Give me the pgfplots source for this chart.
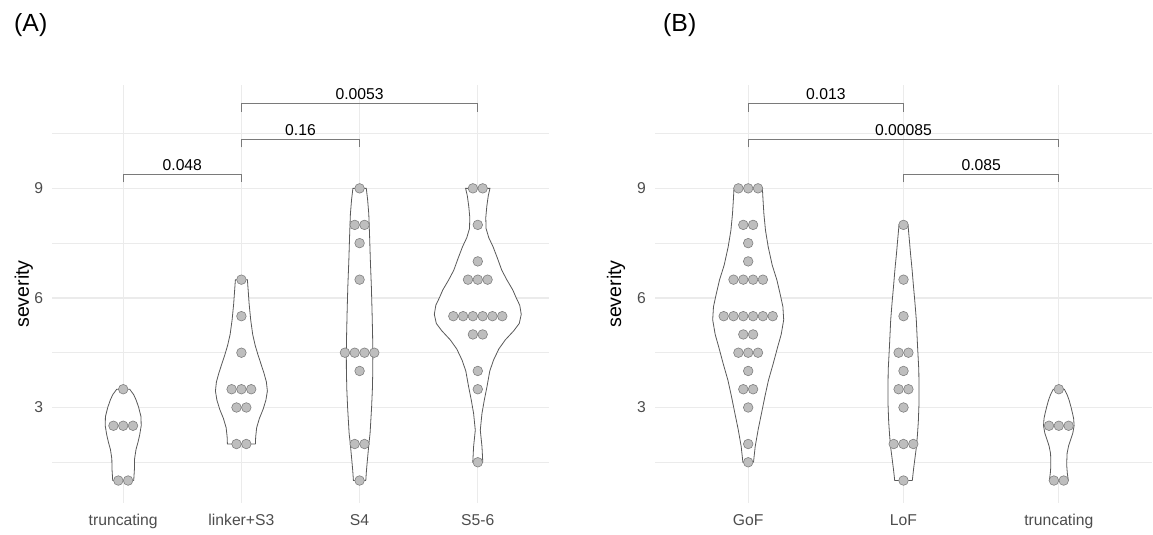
\documentclass[border=0pt]{standalone}
\usepackage{fontspec}
\setmainfont{Liberation Sans}
\usepackage{pgfplots}
\pgfplotsset{compat=1.18}
\usepackage{pgfplotstable}

\definecolor{gridc}{HTML}{EBEBEB}
\definecolor{tickc}{HTML}{4D4D4D}
\definecolor{ptfill}{HTML}{BEBEBE}
\definecolor{ptdraw}{HTML}{808080}
\definecolor{vioc}{HTML}{595959}
\definecolor{brc}{HTML}{7A7A7A}

\newcommand{\ticksfont}{\fontsize{15.7}{18}\selectfont}
\newcommand{\labfont}{\fontsize{19.6}{22}\selectfont}
\newcommand{\tagfont}{\fontsize{24.8}{28}\selectfont}

% violin outlines: severity v, signed horizontal offset dx (pixels)
\pgfplotstableread{
v dx
1.0 10.5
1.3 11.2
1.6 11.4
1.85 12.8
2.05 14.8
2.25 16.5
2.5 18.0
2.75 17.8
3.0 15.5
3.2 13.0
3.35 10.5
3.5 6.5
3.5 -6.5
3.35 -10.5
3.2 -13.0
3.0 -15.5
2.75 -17.8
2.5 -18.0
2.25 -16.5
2.05 -14.8
1.85 -12.8
1.6 -11.4
1.3 -11.2
1.0 -10.5
1.0 10.5
}\vTruncA
\pgfplotstableread{
v dx
2.0 14.0
2.2 14.3
2.45 15.3
2.7 18.0
2.95 21.7
3.2 24.5
3.45 26.0
3.7 25.0
3.95 22.5
4.2 19.5
4.45 16.5
4.7 13.8
5.0 11.3
5.4 9.3
5.85 7.7
6.2 6.8
6.5 6.0
6.5 -6.0
6.2 -6.8
5.85 -7.7
5.4 -9.3
5.0 -11.3
4.7 -13.8
4.45 -16.5
4.2 -19.5
3.95 -22.5
3.7 -25.0
3.45 -26.0
3.2 -24.5
2.95 -21.7
2.7 -18.0
2.45 -15.3
2.2 -14.3
2.0 -14.0
2.0 14.0
}\vLinkA
\pgfplotstableread{
v dx
1.0 6.2
1.25 6.8
1.5 7.6
2.0 9.3
2.3 10.5
3.0 12.0
3.5 12.8
4.0 13.2
4.5 13.3
5.0 13.0
5.6 12.5
6.3 11.8
7.0 10.8
7.7 10.0
8.3 9.2
8.7 8.0
9.0 6.7
9.0 -6.7
8.7 -8.0
8.3 -9.2
7.7 -10.0
7.0 -10.8
6.3 -11.8
5.6 -12.5
5.0 -13.0
4.5 -13.3
4.0 -13.2
3.5 -12.8
3.0 -12.0
2.3 -10.5
2.0 -9.3
1.5 -7.6
1.25 -6.8
1.0 -6.2
1.0 6.2
}\vSfourA
\pgfplotstableread{
v dx
1.5 5.0
1.93 4.2
2.38 2.5
2.84 4.2
3.2 6.5
3.57 9.2
4.0 12.0
4.3 15.8
4.6 21.0
4.85 27.5
5.1 36.0
5.3 41.5
5.55 43.5
5.8 42.0
6.0 38.5
6.22 35.0
6.5 29.0
6.76 24.0
7.1 19.5
7.4 15.3
7.65 11.0
7.9 8.3
8.2 8.0
8.5 9.0
8.8 10.5
9.0 12.2
9.0 -12.2
8.8 -10.5
8.5 -9.0
8.2 -8.0
7.9 -8.3
7.65 -11.0
7.4 -15.3
7.1 -19.5
6.76 -24.0
6.5 -29.0
6.22 -35.0
6.0 -38.5
5.8 -42.0
5.55 -43.5
5.3 -41.5
5.1 -36.0
4.85 -27.5
4.6 -21.0
4.3 -15.8
4.0 -12.0
3.57 -9.2
3.2 -6.5
2.84 -4.2
2.38 -2.5
1.93 -4.2
1.5 -5.0
1.5 5.0
}\vSfiveA
\pgfplotstableread{
v dx
1.5 5.3
1.93 7.0
2.4 10.0
2.84 13.3
3.3 16.7
3.75 20.3
4.2 25.0
4.66 29.5
5.0 33.0
5.4 35.5
5.76 34.7
6.1 32.0
6.49 28.7
6.9 24.0
7.4 20.0
7.85 17.3
8.3 15.7
8.7 14.8
9.0 14.2
9.0 -14.2
8.7 -14.8
8.3 -15.7
7.85 -17.3
7.4 -20.0
6.9 -24.0
6.49 -28.7
6.1 -32.0
5.76 -34.7
5.4 -35.5
5.0 -33.0
4.66 -29.5
4.2 -25.0
3.75 -20.3
3.3 -16.7
2.84 -13.3
2.4 -10.0
1.93 -7.0
1.5 -5.3
1.5 5.3
}\vGoF
\pgfplotstableread{
v dx
1.0 8.8
1.3 10.0
1.56 11.2
1.9 12.8
2.2 13.8
2.6 14.8
3.11 15.5
3.6 15.5
4.03 15.3
4.7 14.0
5.4 12.8
5.85 11.5
6.31 10.0
6.8 8.5
7.22 7.0
7.6 5.8
8.0 4.5
8.0 -4.5
7.6 -5.8
7.22 -7.0
6.8 -8.5
6.31 -10.0
5.85 -11.5
5.4 -12.8
4.7 -14.0
4.03 -15.3
3.6 -15.5
3.11 -15.5
2.6 -14.8
2.2 -13.8
1.9 -12.8
1.56 -11.2
1.3 -10.0
1.0 -8.8
1.0 8.8
}\vLoF
\pgfplotstableread{
v dx
1.0 9.5
1.2 8.5
1.38 8.0
1.55 8.0
1.75 8.3
1.95 9.8
2.11 11.7
2.3 14.0
2.5 15.3
2.7 14.8
2.84 13.7
3.0 12.3
3.2 10.3
3.35 8.3
3.5 5.5
3.5 -5.5
3.35 -8.3
3.2 -10.3
3.0 -12.3
2.84 -13.7
2.7 -14.8
2.5 -15.3
2.3 -14.0
2.11 -11.7
1.95 -9.8
1.75 -8.3
1.55 -8.0
1.38 -8.0
1.2 -8.5
1.0 -9.5
1.0 9.5
}\vTruncB

% points: category c, horizontal offset dx (pixels), severity v
\pgfplotstableread{
c dx v
1 0 3.5
1 -9.8 2.5
1 0 2.5
1 9.8 2.5
1 -4.9 1
1 4.9 1
2 0 6.5
2 0 5.5
2 0 4.5
2 -9.8 3.5
2 0 3.5
2 9.8 3.5
2 -4.9 3
2 4.9 3
2 -4.9 2
2 4.9 2
3 0 9
3 -4.9 8
3 4.9 8
3 0 7.5
3 0 6.5
3 -14.7 4.5
3 -4.9 4.5
3 4.9 4.5
3 14.7 4.5
3 0 4
3 -4.9 2
3 4.9 2
3 0 1
4 -4.9 9
4 4.9 9
4 0 8
4 0 7
4 -9.8 6.5
4 0 6.5
4 9.8 6.5
4 -24.5 5.5
4 -14.7 5.5
4 -4.9 5.5
4 4.9 5.5
4 14.7 5.5
4 24.5 5.5
4 -4.9 5
4 4.9 5
4 0 4
4 0 3.5
4 0 1.5
}\dotsA
\pgfplotstableread{
c dx v
1 -9.8 9
1 0 9
1 9.8 9
1 -4.9 8
1 4.9 8
1 0 7.5
1 0 7
1 -14.7 6.5
1 -4.9 6.5
1 4.9 6.5
1 14.7 6.5
1 -24.5 5.5
1 -14.7 5.5
1 -4.9 5.5
1 4.9 5.5
1 14.7 5.5
1 24.5 5.5
1 -4.9 5
1 4.9 5
1 -9.8 4.5
1 0 4.5
1 9.8 4.5
1 0 4
1 -4.9 3.5
1 4.9 3.5
1 0 3
1 0 2
1 0 1.5
2 0 8
2 0 6.5
2 0 5.5
2 -4.9 4.5
2 4.9 4.5
2 0 4
2 -4.9 3.5
2 4.9 3.5
2 0 3
2 -9.8 2
2 0 2
2 9.8 2
2 0 1
3 0 3.5
3 -9.8 2.5
3 0 2.5
3 9.8 2.5
3 -4.9 1
3 4.9 1
}\dotsB

\pgfplotsset{
  panel/.style={
    scale only axis, anchor=south west, height=418pt,
    ymin=0.385, ymax=11.83,
    ytick={3,6,9}, yticklabels={3,6,9},
    minor ytick={1.5,4.5,7.5,10.5},
    xmajorgrids, ymajorgrids, yminorgrids,
    major grid style={draw=gridc, line width=1.2pt},
    minor grid style={draw=gridc, line width=0.7pt},
    axis line style={draw=none},
    major tick length=0pt, minor tick length=0pt,
    tick style={draw=none},
    xticklabel style={font=\ticksfont, text=tickc, anchor=base, inner sep=0pt, yshift=-23pt},
    yticklabel style={font=\ticksfont, text=tickc, anchor=east, inner sep=0pt, xshift=-9pt},
    ylabel={severity},
    clip=false,
  },
  vio/.style={fill=white, draw=vioc, line width=0.8pt},
  dots/.style={only marks, mark=*, mark size=4.8pt,
    mark options={fill=ptfill, draw=ptdraw, line width=0.6pt}},
  br/.style={draw=brc, line width=0.8pt},
}

\begin{document}
\begin{tikzpicture}
\path[use as bounding box] (0pt,0pt) rectangle (1153pt,535pt);
\node[font=\tagfont, anchor=base west, inner sep=0pt] at (14pt,503.6pt) {(A)};
\node[font=\tagfont, anchor=base west, inner sep=0pt] at (663pt,503.6pt) {(B)};

% ---------------- panel A ----------------
\begin{axis}[panel, at={(52.3pt,32pt)}, width=496.4pt,
  xmin=0.4, xmax=4.6, xtick={1,2,3,4},
  xticklabels={truncating, linker+S3, S4, S5-6},
  ylabel style={font=\labfont, at={(axis description cs:-0.047,0.5)}, anchor=base, inner sep=0pt}]
  \addplot[vio] table[x expr=1+\thisrow{dx}/118.3, y=v]{\vTruncA};
  \addplot[vio] table[x expr=2+\thisrow{dx}/118.3, y=v]{\vLinkA};
  \addplot[vio] table[x expr=3+\thisrow{dx}/118.3, y=v]{\vSfourA};
  \addplot[vio] table[x expr=4+\thisrow{dx}/118.3, y=v]{\vSfiveA};
  \addplot[dots] table[x expr=\thisrow{c}+\thisrow{dx}/118.3, y=v]{\dotsA};
  % significance brackets
  \addplot[br] coordinates {(1,9.163) (1,9.39) (2,9.39) (2,9.163)};
  \addplot[br] coordinates {(2,10.123) (2,10.35) (3,10.35) (3,10.123)};
  \addplot[br] coordinates {(2,11.103) (2,11.33) (4,11.33) (4,11.103)};
  \node[font=\ticksfont, anchor=base, inner sep=0pt] at (axis cs:1.5,9.48) {0.048};
  \node[font=\ticksfont, anchor=base, inner sep=0pt] at (axis cs:2.5,10.44) {0.16};
  \node[font=\ticksfont, anchor=base, inner sep=0pt] at (axis cs:3,11.42) {0.0053};
\end{axis}

% ---------------- panel B ----------------
\begin{axis}[panel, at={(655pt,32pt)}, width=497pt,
  xmin=0.4, xmax=3.6, xtick={1,2,3},
  xticklabels={GoF, LoF, truncating},
  ylabel style={font=\labfont, at={(axis description cs:-0.0684,0.5)}, anchor=base, inner sep=0pt}]
  \addplot[vio] table[x expr=1+\thisrow{dx}/155.3, y=v]{\vGoF};
  \addplot[vio] table[x expr=2+\thisrow{dx}/155.3, y=v]{\vLoF};
  \addplot[vio] table[x expr=3+\thisrow{dx}/155.3, y=v]{\vTruncB};
  \addplot[dots] table[x expr=\thisrow{c}+\thisrow{dx}/155.3, y=v]{\dotsB};
  % significance brackets
  \addplot[br] coordinates {(1,11.103) (1,11.33) (2,11.33) (2,11.103)};
  \addplot[br] coordinates {(1,10.123) (1,10.35) (3,10.35) (3,10.123)};
  \addplot[br] coordinates {(2,9.163) (2,9.39) (3,9.39) (3,9.163)};
  \node[font=\ticksfont, anchor=base, inner sep=0pt] at (axis cs:1.5,11.42) {0.013};
  \node[font=\ticksfont, anchor=base, inner sep=0pt] at (axis cs:2,10.44) {0.00085};
  \node[font=\ticksfont, anchor=base, inner sep=0pt] at (axis cs:2.5,9.48) {0.085};
\end{axis}
\end{tikzpicture}
\end{document}
